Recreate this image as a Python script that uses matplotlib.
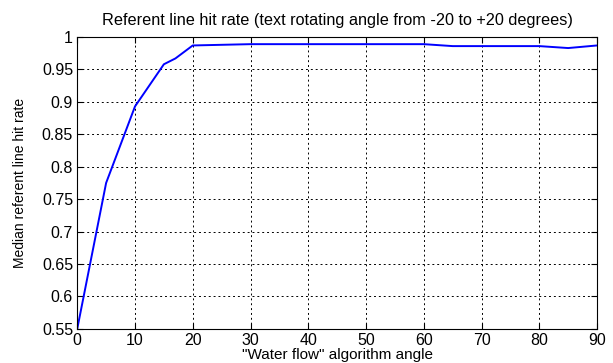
import matplotlib
matplotlib.use("Agg")
import matplotlib.pyplot as plt

# dane
angle = [0, 5, 10, 15, 17, 20, 25, 30, 35, 40, 45, 50, 55, 60, 65, 70, 75, 80, 85, 90]
hit_rate = [0.55, 0.775, 0.893, 0.958, 0.967, 0.987, 0.988, 0.989, 0.989, 0.989, 0.989,
            0.989, 0.989, 0.989, 0.986, 0.986, 0.986, 0.986, 0.983, 0.987]
xticks = list(range(0, 91, 10))
yticks = [0.55, 0.6, 0.65, 0.7, 0.75, 0.8, 0.85, 0.9, 0.95, 1]
ytick_labels = ['0.55', '0.6', '0.65', '0.7', '0.75', '0.8', '0.85', '0.9', '0.95', '1']

plt.rcParams['font.family'] = ['Liberation Sans', 'DejaVu Sans']

fig = plt.figure(figsize=(6.13, 3.63), dpi=100)
ax = fig.add_axes([0.126, 0.094, 0.848, 0.804])
ax.plot(angle, hit_rate, color='#0000ff', linewidth=1.4)
ax.set_xlim(0, 90)
ax.set_ylim(0.55, 1)
ax.set_xticks(xticks)
ax.set_yticks(yticks)
ax.set_yticklabels(ytick_labels)
ax.tick_params(direction='in', top=True, right=True, labelsize=11.5, length=4, pad=3)
ax.grid(True, color='black', linestyle=(0, (2, 3)), linewidth=0.7)
for s in ax.spines.values():
    s.set_linewidth(0.8)
ax.set_title('Referent line hit rate (text rotating angle from -20 to +20 degrees)',
             fontsize=11.7, pad=9)
ax.set_xlabel('"Water flow" algorithm angle', fontsize=11, labelpad=0)
ax.set_ylabel('Median referent line hit rate', fontsize=10, labelpad=11)

plt.savefig('out.png', dpi=100)
